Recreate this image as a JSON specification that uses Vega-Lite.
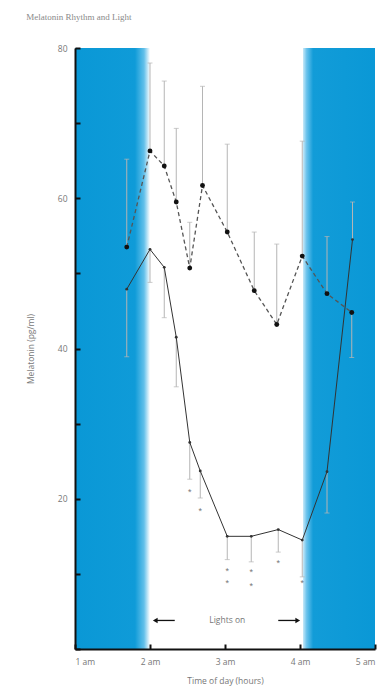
{
  "$schema": "https://vega.github.io/schema/vega-lite/v6.json",
  "autosize": {"type": "none"},
  "width": 300,
  "height": 601,
  "padding": {"left": 75, "top": 48, "right": 7, "bottom": 43},
  "background": "white",
  "title": {"text": "Melatonin Rhythm and Light", "anchor": "start", "font": "Liberation Serif", "fontSize": 9, "fontWeight": "normal", "color": "#8a8a8a", "offset": 22},
  "config": {"view": {"stroke": null}},
  "datasets": {
    "bands": [{"t": 1, "t2": 2, "v": 0, "v2": 80, "side": "left"}, {"t": 4.04, "t2": 5, "v": 0, "v2": 80, "side": "right"}],
    "dashed": [
      {"t": 1.69, "v": 53.5, "e": 65.2},
      {"t": 2.0, "v": 66.3, "e": 78},
      {"t": 2.19, "v": 64.3, "e": 75.6},
      {"t": 2.35, "v": 59.5, "e": 69.3},
      {"t": 2.53, "v": 50.7, "e": 56.8},
      {"t": 2.7, "v": 61.7, "e": 74.9},
      {"t": 3.03, "v": 55.5, "e": 67.2},
      {"t": 3.39, "v": 47.7, "e": 55.5},
      {"t": 3.69, "v": 43.2, "e": 53.9},
      {"t": 4.03, "v": 52.3, "e": 67.6},
      {"t": 4.36, "v": 47.3, "e": 54.9},
      {"t": 4.69, "v": 44.8, "e": 38.8}
    ],
    "solid": [
      {"t": 1.69, "v": 47.9, "e": 38.9},
      {"t": 2.0, "v": 53.2, "e": 48.8},
      {"t": 2.19, "v": 50.8, "e": 44.1},
      {"t": 2.35, "v": 41.5, "e": 34.9},
      {"t": 2.53, "v": 27.5, "e": 22.6},
      {"t": 2.67, "v": 23.7, "e": 20.1},
      {"t": 3.03, "v": 15.0, "e": 11.9},
      {"t": 3.35, "v": 15.0, "e": 11.6},
      {"t": 3.71, "v": 15.9, "e": 12.9},
      {"t": 4.03, "v": 14.5, "e": 9.6},
      {"t": 4.36, "v": 23.6, "e": 18.1},
      {"t": 4.7, "v": 54.5, "e": 59.5}
    ],
    "stars": [
      {"t": 2.53, "v": 21.2},
      {"t": 2.67, "v": 18.6},
      {"t": 3.03, "v": 10.7},
      {"t": 3.03, "v": 9.0},
      {"t": 3.35, "v": 10.5},
      {"t": 3.35, "v": 8.7},
      {"t": 3.71, "v": 11.7},
      {"t": 4.03, "v": 9.1}
    ],
    "arrows": [{"t": 2.07, "t2": 2.33, "v": 3.8, "head": 2.07, "dir": "left"}, {"t": 3.71, "t2": 3.97, "v": 3.8, "head": 3.97, "dir": "right"}],
    "label": [{"t": 3.03, "v": 3.8, "txt": "Lights on"}]
  },
  "encoding": {
    "x": {"field": "t", "type": "quantitative", "scale": {"domain": [1, 5], "nice": false, "zero": false},
      "axis": {"values": [1, 2, 3, 4, 5], "labelExpr": "datum.value + ' am'", "title": "Time of day (hours)", "grid": false, "zindex": 1,
        "domainColor": "#111", "domainWidth": 2, "tickColor": "#111", "tickWidth": 2, "tickSize": -5,
        "labelFont": "Open Sans", "labelFontSize": 8.5, "labelColor": "#777", "labelPadding": 13,
        "titleFont": "Open Sans", "titleFontSize": 8.5, "titleColor": "#777", "titleFontWeight": "normal", "titlePadding": 11}},
    "y": {"field": "v", "type": "quantitative", "scale": {"domain": [0, 80], "nice": false},
      "axis": {"values": [0, 10, 20, 30, 40, 50, 60, 70, 80], "labelExpr": "datum.value % 20 == 0 && datum.value > 0 ? datum.value : ''", "title": "Melatonin (pg/ml)", "grid": false, "zindex": 1,
        "domainColor": "#111", "domainWidth": 2, "tickColor": "#111", "tickWidth": 2, "tickSize": -5,
        "labelFont": "Open Sans", "labelFontSize": 8.5, "labelColor": "#777", "labelPadding": 13,
        "titleFont": "Open Sans", "titleFontSize": 8.5, "titleColor": "#777", "titleFontWeight": "normal", "titlePadding": 22}}
  },
  "layer": [
    {"data": {"name": "bands"}, "transform": [{"filter": "datum.side == 'left'"}],
      "mark": {"type": "rect", "color": {"gradient": "linear", "x1": 0, "x2": 1, "y1": 0, "y2": 0, "stops": [{"offset": 0, "color": "#0a98d6"}, {"offset": 0.8, "color": "#0f9bd8"}, {"offset": 0.92, "color": "#62c0ea"}, {"offset": 1, "color": "#ffffff"}]}},
      "encoding": {"x2": {"field": "t2"}, "y2": {"field": "v2"}}},
    {"data": {"name": "bands"}, "transform": [{"filter": "datum.side == 'right'"}],
      "mark": {"type": "rect", "color": {"gradient": "linear", "x1": 0, "x2": 1, "y1": 0, "y2": 0, "stops": [{"offset": 0, "color": "#c8e9f8"}, {"offset": 0.05, "color": "#6cc3ec"}, {"offset": 0.14, "color": "#129cd8"}, {"offset": 1, "color": "#0a98d6"}]}},
      "encoding": {"x2": {"field": "t2"}, "y2": {"field": "v2"}}},
    {"data": {"name": "dashed"}, "mark": {"type": "rule", "color": "#b5b5b5", "strokeWidth": 1}, "encoding": {"y2": {"field": "e"}}},
    {"data": {"name": "dashed"}, "mark": {"type": "tick", "color": "#b5b5b5", "orient": "horizontal", "size": 5, "thickness": 1}, "encoding": {"y": {"field": "e", "type": "quantitative"}}},
    {"data": {"name": "solid"}, "mark": {"type": "rule", "color": "#b5b5b5", "strokeWidth": 1}, "encoding": {"y2": {"field": "e"}}},
    {"data": {"name": "solid"}, "mark": {"type": "tick", "color": "#b5b5b5", "orient": "horizontal", "size": 5, "thickness": 1}, "encoding": {"y": {"field": "e", "type": "quantitative"}}},
    {"data": {"name": "dashed"}, "mark": {"type": "line", "color": "#555", "strokeWidth": 1.3, "strokeDash": [4, 3]}, "encoding": {}},
    {"data": {"name": "solid"}, "mark": {"type": "line", "color": "#333", "strokeWidth": 1}, "encoding": {}},
    {"data": {"name": "dashed"}, "mark": {"type": "circle", "color": "#111", "size": 24, "opacity": 1}, "encoding": {}},
    {"data": {"name": "solid"}, "mark": {"type": "circle", "color": "#333", "size": 8, "opacity": 1}, "encoding": {}},
    {"data": {"name": "stars"}, "mark": {"type": "text", "text": "*", "fontSize": 9, "color": "#777", "baseline": "middle", "dy": 2}, "encoding": {}},
    {"data": {"name": "arrows"}, "mark": {"type": "rule", "color": "#111", "strokeWidth": 1.3}, "encoding": {"x2": {"field": "t2"}}},
    {"data": {"name": "arrows"}, "mark": {"type": "point", "filled": true, "color": "#111", "size": 30, "opacity": 1}, "encoding": {"x": {"field": "head", "type": "quantitative"}, "shape": {"field": "dir", "type": "nominal", "scale": {"domain": ["left", "right"], "range": ["triangle-left", "triangle-right"]}, "legend": null}}},
    {"data": {"name": "label"}, "mark": {"type": "text", "font": "Open Sans", "fontSize": 8.5, "color": "#777", "baseline": "middle"}, "encoding": {"text": {"field": "txt"}}}
  ]
}
